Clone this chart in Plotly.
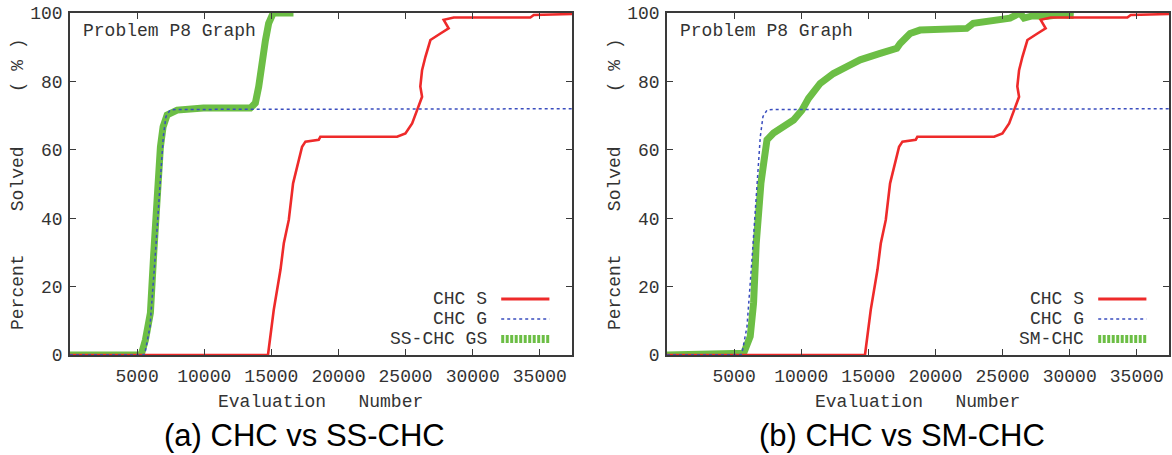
import plotly.graph_objects as go

# ---------------- data ----------------
chc_s_x = [0, 14750, 15180, 15680, 15930, 16300, 16620, 16920, 17290, 17540, 18530, 18650,
           24370, 24990, 25490, 25860, 26230, 26100, 26230, 26480, 26850, 27600, 28210,
           27840, 28590, 34300, 34550, 37400]
chc_s_y = [0, 0, 13.2, 24.9, 32.7, 39.5, 50.2, 55, 60.9, 62.4, 62.9, 63.8,
           63.8, 64.8, 67.7, 71.6, 75.5, 78.5, 83.3, 87.2, 92.1, 94, 95.5,
           98, 98.7, 98.7, 99.4, 99.7]

chc_g_x = [0, 5500, 5590, 5960, 6330, 6580, 6750, 6950, 7150, 7450, 7940, 37400]
chc_g_y = [0, 0, 0.6, 8.3, 27.8, 42.4, 54, 63.8, 69.7, 71.6, 71.8, 72]

ss_x = [0, 5300, 5620, 5990, 6240, 6360, 6535, 6735, 6935, 7235, 7980, 9940, 13440,
        13810, 14060, 14310, 14560, 14800, 15140, 16650]
ss_y = [0, 0, 4.4, 12.3, 29.8, 39.5, 53, 60.8, 66.7, 70.2, 71.6, 72.2, 72.2,
        73.7, 78.5, 86.3, 92, 97, 100, 100]

sm_x = [0, 5600, 5710, 6200, 6450, 6650, 6820, 7000, 7200, 7450, 7940, 8680, 9430, 10050,
        10540, 11410, 12400, 13400, 14390, 15880, 17120, 17370, 17610, 18110, 18850, 21080,
        22330, 22820, 23600, 24310, 25000, 25550, 26300, 26600, 27270, 28200, 29200, 30300]
sm_y = [0, 0, 0.5, 5.4, 15.2, 32.7, 42.4, 50.3, 56, 62.9, 64.9, 66.8, 68.7, 71.6,
        75, 79.4, 82.3, 84.3, 86.3, 88.2, 89.7, 91.1, 92, 94, 95, 95.5,
        95.5, 97, 97.5, 98, 98.3, 98.5, 100, 98.5, 99.2, 99, 99.5, 99.3]

x_ticks = [5000, 10000, 15000, 20000, 25000, 30000, 35000]
x_tick_labels = ["5000", "10000", "15000", "20000", "25000", "30000", "35000"]
y_ticks = [0, 20, 40, 60, 80, 100]
y_tick_labels = ["0", "20", "40", "60", "80", "100"]
panel_captions = ["(a) CHC vs SS-CHC", "(b) CHC vs SM-CHC"]
third_names = ["SS-CHC GS", "SM-CHC"]
series_names = ["CHC S", "CHC G"]

# ---------------- styles ----------------
RED = "#EE2A2A"
BLUE = "#3A4DBE"
GREEN = "#6CBE45"
AX = "#3a3a3a"
TXT = "#333333"
MONO = "Liberation Mono"
NB = "\u00a0"

fig = go.Figure()

panels = [("x", "y", ss_x, ss_y), ("x2", "y2", sm_x, sm_y)]
for i, (xa, ya, gx, gy) in enumerate(panels):
    fig.add_trace(go.Scatter(x=gx, y=gy, mode="lines", xaxis=xa, yaxis=ya,
                             line=dict(color=GREEN, width=7), name=third_names[i], showlegend=False))
    fig.add_trace(go.Scatter(x=chc_s_x, y=chc_s_y, mode="lines", xaxis=xa, yaxis=ya,
                             line=dict(color=RED, width=2.6), name="CHC S", showlegend=False))
    fig.add_trace(go.Scatter(x=chc_g_x, y=chc_g_y, mode="lines", xaxis=xa, yaxis=ya,
                             line=dict(color=BLUE, width=1.5, dash="dot"), name="CHC G", showlegend=False))

axis_common = dict(showline=True, linecolor=AX, linewidth=1.5, mirror="ticks",
                   ticks="inside", ticklen=6, tickwidth=1, tickcolor=AX,
                   showgrid=False, zeroline=False, automargin=False,
                   tickfont=dict(family=MONO, size=18, color=TXT))

xdef = dict(range=[0, 37400], tickvals=x_ticks, ticktext=x_tick_labels, ticklabelstandoff=4, **axis_common)
ydef = dict(domain=[0.21978, 0.97143], range=[0, 100], tickvals=y_ticks, ticktext=y_tick_labels,
            ticklabelstandoff=2, **axis_common)

fig.update_layout(
    width=1172, height=455, margin=dict(l=0, r=0, t=0, b=0, autoexpand=False),
    paper_bgcolor="white", plot_bgcolor="white", showlegend=False,
    xaxis=dict(domain=[0.05973, 0.48805], anchor="y", **xdef),
    yaxis=dict(anchor="x", **ydef),
    xaxis2=dict(domain=[0.56911, 0.99744], anchor="y2", **xdef),
    yaxis2=dict(anchor="x2", **ydef),
)

ann = []
shapes = []
ytitle = "Percent" + NB * 4 + "Solved" + NB * 5 + "(" + NB + "%" + NB + ")"
xtitle = "Evaluation" + NB * 3 + "Number"
legend_y = [0.1637, 0.105, 0.0468]
for i, (xa, ya) in enumerate([("x", "y"), ("x2", "y2")]):
    xd = xa + " domain"
    yd = ya + " domain"
    ann.append(dict(text="Problem P8 Graph", xref=xd, yref=yd, x=0.022, y=0.947,
                    xanchor="left", yanchor="middle", showarrow=False,
                    font=dict(family=MONO, size=18, color=TXT)))
    ann.append(dict(text=ytitle, xref=xd, yref=yd, x=-0.1036, y=0.5, textangle=-90,
                    xanchor="center", yanchor="middle", showarrow=False,
                    font=dict(family=MONO, size=18, color=TXT)))
    ann.append(dict(text=xtitle, xref=xd, yref="paper", x=0.5, y=1 - 402 / 455,
                    xanchor="center", yanchor="middle", showarrow=False,
                    font=dict(family=MONO, size=18, color=TXT)))
    ann.append(dict(text=panel_captions[i], xref=xd, yref="paper", x=0.468, y=1 - 435 / 455,
                    xanchor="center", yanchor="middle", showarrow=False,
                    font=dict(family="Liberation Sans", size=31, color="black")))
    names = series_names + [third_names[i]]
    for j, nm in enumerate(names):
        ann.append(dict(text=nm.replace(" ", NB), xref=xd, yref=yd, x=0.834, y=legend_y[j],
                        xanchor="right", yanchor="middle", showarrow=False,
                        font=dict(family=MONO, size=18, color=TXT)))
    shapes.append(dict(type="line", xref=xd, yref=yd, x0=0.859, x1=0.955,
                       y0=legend_y[0], y1=legend_y[0], line=dict(color=RED, width=3)))
    shapes.append(dict(type="line", xref=xd, yref=yd, x0=0.859, x1=0.955,
                       y0=legend_y[1], y1=legend_y[1], line=dict(color=BLUE, width=1.5, dash="dot")))
    shapes.append(dict(type="line", xref=xd, yref=yd, x0=0.859, x1=0.955,
                       y0=legend_y[2], y1=legend_y[2], line=dict(color=GREEN, width=8, dash="3px,1.5px")))

fig.update_layout(annotations=ann, shapes=shapes)
fig.write_html("out.html")
